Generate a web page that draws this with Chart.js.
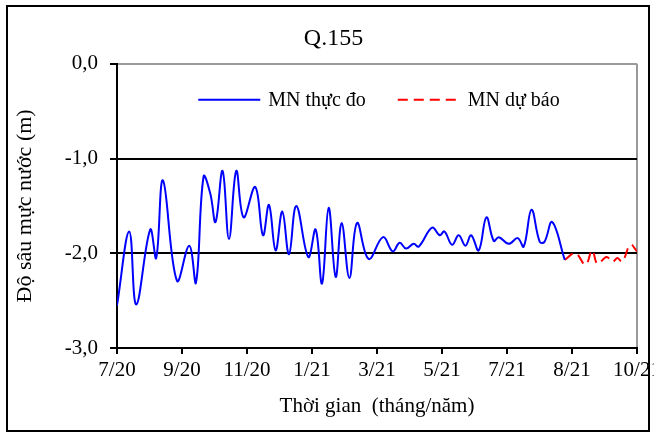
<!DOCTYPE html>
<html>
<head>
<meta charset="utf-8">
<script src="https://cdn.jsdelivr.net/npm/chart.js@4.4.1/dist/chart.umd.min.js"></script>
<style>
  body { margin: 0; background: #fff; }
  #wrap { position: relative; width: 654px; height: 434px; }
  #frame { position: absolute; left: 6px; top: 5px; width: 644px; height: 427px; box-sizing: border-box; border: 2px solid #000; pointer-events: none; }
</style>
</head>
<body>
<div id="wrap">
  <canvas id="chart" width="654" height="434"></canvas>
  <div id="frame"></div>
</div>
<script>
// x positions are in category units: 0 = 7/20 ... 8 = 10/21
const xTickLabels = ['7/20', '9/20', '11/20', '1/21', '3/21', '5/21', '7/21', '8/21', '10/21'];

const obsX = [0.000, 0.188, 0.296, 0.511, 0.603, 0.707, 0.922, 1.111, 1.215, 1.332, 1.435, 1.516, 1.624, 1.723, 1.835, 1.947,
              2.127, 2.246, 2.338, 2.440, 2.543, 2.646, 2.759, 2.943, 3.056, 3.154, 3.256, 3.364, 3.456, 3.575, 3.693, 3.872,
              4.093, 4.241, 4.349, 4.447, 4.564, 4.641, 4.848, 4.965, 5.037, 5.155, 5.257, 5.360, 5.448, 5.565, 5.683, 5.796,
              5.873, 6.027, 6.165, 6.257, 6.376, 6.504, 6.576, 6.695, 6.889];
const obsY = [-2.55, -1.77, -2.54, -1.75, -2.05, -1.23, -2.29, -1.92, -2.31, -1.19, -1.37, -1.67, -1.13, -1.85, -1.13, -1.62,
              -1.30, -1.81, -1.49, -1.97, -1.56, -2.01, -1.50, -2.04, -1.75, -2.32, -1.52, -2.25, -1.68, -2.26, -1.68, -2.06,
              -1.83, -1.98, -1.89, -1.95, -1.90, -1.93, -1.73, -1.81, -1.77, -1.91, -1.81, -1.92, -1.81, -1.97, -1.62, -1.87,
              -1.83, -1.90, -1.84, -1.93, -1.54, -1.88, -1.88, -1.67, -2.07];

const fcX = [6.889, 7.053, 7.207, 7.311, 7.392, 7.531, 7.623, 7.700, 7.772, 7.900, 8.000];
const fcY = [-2.07, -2.00, -2.12, -1.97, -2.11, -2.04, -2.09, -2.05, -2.09, -1.91, -1.98];

const seriesNames = ['MN thực đo', 'MN dự báo'];
const FONT = '"Liberation Serif", "Times New Roman", serif';

const toPoints = (xs, ys) => xs.map((x, i) => ({ x: x, y: ys[i] }));

// legend drawn inside the plot area, as in the original
const inlineLegend = {
  id: 'inlineLegend',
  afterLayout(chart) {
    // title sits centred on the whole frame, not on the padded box
    if (chart.titleBlock) chart.titleBlock.right = chart.width + 13;
  },
  afterDatasetsDraw(chart) {
    const ctx = chart.ctx;
    const area = chart.chartArea;
    const lineLen = 62, gap = 8, spacing = 32;
    const y = area.top + 36;
    ctx.save();
    ctx.font = '20px ' + FONT;
    ctx.textBaseline = 'middle';
    const items = chart.data.datasets.map(ds => ({ ds: ds, w: ctx.measureText(ds.label).width }));
    const total = items.reduce((s, it) => s + lineLen + gap + it.w, 0) + spacing * (items.length - 1);
    let x = (area.left + area.right) / 2 - total / 2 + 2;
    items.forEach(it => {
      ctx.strokeStyle = it.ds.borderColor;
      ctx.lineWidth = it.ds.borderWidth;
      ctx.setLineDash(it.ds.borderDash || []);
      ctx.beginPath();
      ctx.moveTo(x, y);
      ctx.lineTo(x + lineLen, y);
      ctx.stroke();
      ctx.setLineDash([]);
      ctx.fillStyle = '#000';
      ctx.fillText(it.ds.label, x + lineLen + gap, y + 1);
      x += lineLen + gap + it.w + spacing;
    });
    ctx.restore();
  }
};

new Chart(document.getElementById('chart'), {
  type: 'line',
  data: {
    datasets: [{
      label: seriesNames[0],
      data: toPoints(obsX, obsY),
      borderColor: '#0000ff',
      borderWidth: 2,
      pointRadius: 0,
      tension: 0.4
    }, {
      label: seriesNames[1],
      data: toPoints(fcX, fcY),
      borderColor: '#ff0000',
      borderWidth: 2,
      borderDash: [10, 6],
      pointRadius: 0,
      tension: 0.4
    }]
  },
  options: {
    responsive: false,
    animation: false,
    layout: { padding: { left: 0, right: 17, top: 0, bottom: 0 } },
    plugins: {
      legend: { display: false },
      tooltip: { enabled: false },
      title: {
        display: true,
        text: 'Q.155',
        color: '#000',
        font: { family: FONT, size: 24, weight: 'normal' },
        padding: { top: 24, bottom: 11 }
      }
    },
    scales: {
      x: {
        type: 'linear',
        min: 0,
        max: 8,
        afterFit(scale) {
          scale.height = 86;
          scale.paddingLeft = 0;
          scale.paddingRight = 0;
        },
        ticks: {
          stepSize: 1,
          color: '#000',
          padding: 4,
          maxRotation: 0,
          autoSkip: false,
          font: { family: FONT, size: 21 },
          callback: v => xTickLabels[v]
        },
        grid: {
          drawOnChartArea: true,
          color: c => (c.tick && c.tick.value === 8) ? '#9a9a9a' : 'rgba(0,0,0,0)',
          tickColor: '#000',
          tickLength: 6,
          lineWidth: 2,
          tickWidth: 2
        },
        border: { color: '#000', width: 2 },
        title: {
          display: true,
          text: 'Thời gian  (tháng/năm)',
          color: '#000',
          font: { family: FONT, size: 21 },
          padding: { top: 0, bottom: 15 }
        }
      },
      y: {
        min: -3,
        max: 0,
        afterFit(scale) {
          scale.width = 117;
          scale.paddingTop = 0;
          scale.paddingBottom = 0;
        },
        ticks: {
          stepSize: 1,
          color: '#000',
          padding: 12,
          font: { family: FONT, size: 21 },
          callback: v => v.toFixed(1).replace('.', ',')
        },
        grid: {
          color: c => (c.tick && c.tick.value === 0) ? '#9a9a9a' : '#000',
          tickColor: '#000',
          tickLength: 7,
          lineWidth: 2,
          tickWidth: 2
        },
        border: { color: '#000', width: 2 },
        title: {
          display: true,
          text: 'Độ sâu mực nước (m)',
          color: '#000',
          font: { family: FONT, size: 22 },
          padding: { top: 12, bottom: 0 }
        }
      }
    }
  },
  plugins: [inlineLegend]
});
</script>
</body>
</html>
